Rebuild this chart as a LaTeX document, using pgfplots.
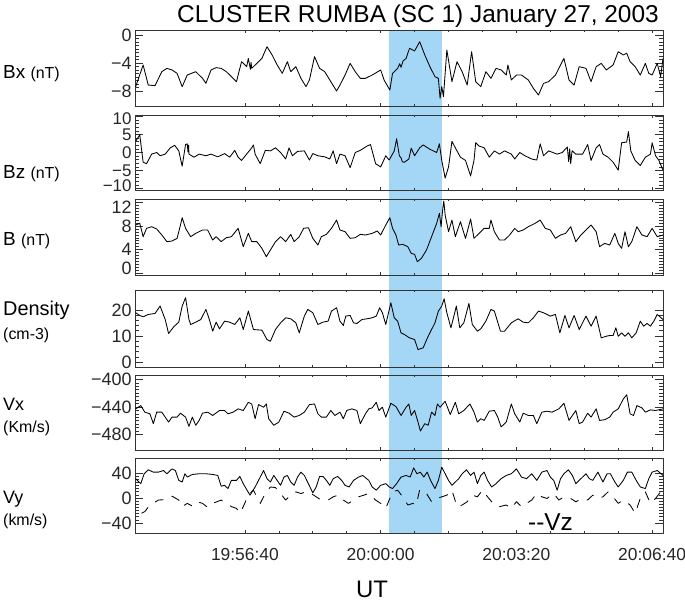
\documentclass[border=0pt]{standalone}
\usepackage{fontspec}
\setmainfont{Liberation Sans}
\usepackage{pgfplots}
\pgfplotsset{compat=1.18}
\definecolor{bandblue}{RGB}{164,214,245}

% data: time in seconds from 20:00:00 UT
\newcommand{\fs}[1]{\fontsize{#1}{#1}\selectfont}
% end labels nudged inward, as the original plot does
\newcommand{\up}[2][5bp]{\raisebox{#1}[\height][\depth]{#2}}
\newcommand{\dn}[2][5bp]{\raisebox{-#1}[\height][\depth]{#2}}

\pgfplotsset{
  panel/.style={
    anchor=north west, width=528bp, scale only axis,
    xmin=-362, xmax=416,
    xtick={-200,0,200,400}, minor x tick num=3, xticklabels={},
    tick align=inside,
    axis line style={line width=0.9bp, black!80},
    every tick/.style={black!80, line width=0.7bp},
    major tick length=8bp, minor tick length=4bp,
    x tick style={/pgfplots/major tick length=3bp, /pgfplots/minor tick length=2bp},
    tick label style={font=\fs{18}, text=black!85},
  },
  data/.style={black, line width=0.85bp, line join=round},
}

\begin{document}
\begin{tikzpicture}
\path[use as bounding box] (0,0) rectangle (685bp,-602bp);

% shaded interval across all panels
\begin{axis}[at={(135bp,-30bp)}, anchor=north west, width=528bp, height=503bp,
  scale only axis, xmin=-362, xmax=416, ymin=0, ymax=1, hide axis]
\addplot[fill=bandblue, draw=none] coordinates {(12,1) (90,1)} \closedcycle;
\end{axis}

% Bx
\begin{axis}[panel, at={(135bp,-30bp)}, height=76bp, ymin=-10.1, ymax=0.7,
  ytick={-8,-4,0}, yticklabels={−8,−4,0}, minor y tick num=7]
\addplot[data] coordinates {
(-361,-7.35) (-350,-4.27) (-342.5,-7.12) (-332.5,-7.21) (-322.5,-5.22) (-315,-4.75)
(-307.5,-4.98) (-300,-5.46) (-292.5,-7.35) (-285,-5.7) (-272.5,-5.22) (-262.5,-6.17)
(-257.5,-6.88) (-250,-4.98) (-242.5,-4.65) (-235,-4.75) (-227.5,-5.22) (-212.5,-6.64)
(-205,-3.8) (-197.5,-4.51) (-195,-3.33) (-192,-4.9) (-191,-3.9) (-190,-4.75) (-182.5,-4.04)
(-175,-3.33) (-167.5,-1.67) (-160,-2.85) (-152.5,-4.27) (-145,-5.46) (-137.5,-3.8)
(-132.5,-5.22) (-125,-4.51) (-117.5,-6.17) (-110,-7.35) (-105,-6.4) (-97.5,-3.09)
(-90,-4.75) (-82.5,-5.22) (-75,-6.4) (-65,-7.97) (-60,-7.12) (-52.5,-5.7) (-45,-4.04)
(-37.5,-5.22) (-30,-6.17) (-22.5,-6.17) (-12.5,-5.7) (0,-4.98) (5,-6.4) (13.5,-7.83)
(17.5,-5.46) (25,-4.75) (28,-4.1) (30,-4.6) (33,-3.7) (37.5,-3.33) (42.5,-1.9) (50,-2.28)
(57.5,-0.96) (65,-2.85) (72.5,-4.51) (80,-5.93) (85,-6.17) (87.5,-9.0) (90,-7.35)
(92.5,-8.77) (97.5,-2.14) (105,-6.64) (112.5,-3.8) (120,-5.22) (127.5,-7.12) (134,-2.38)
(140,-6.64) (147.5,-7.35) (155,-5.22) (162.5,-6.17) (170,-4.75) (177.5,-4.98) (185,-5.7)
(187.5,-4.27) (192.5,-6.4) (200,-5.7) (207.5,-5.7) (217.5,-6.4) (225,-7.59) (232.5,-8.54)
(240,-6.88) (247.5,-6.64) (257.5,-5.7) (270,-3.33) (277.5,-6.4) (285,-7.12) (292.5,-4.51)
(302.5,-4.75) (310,-6.64) (317.5,-4.51) (325,-4.04) (332.5,-4.98) (342.5,-4.27)
(350,-2.38) (357.5,-2.85) (362.5,-2.6) (367.5,-3.8) (375,-4.51) (382.5,-5.7) (390,-4.04)
(395,-5.46) (400,-5.7) (407.5,-4.04) (412.5,-5.93) (416,-3.33)
};
\end{axis}

% Bz
\begin{axis}[panel, at={(135bp,-115bp)}, height=75bp, ymin=-10.4, ymax=10.4,
  ytick={-10,-5,0,5,10}, yticklabels={\up[2.5bp]{−10},−5,0,5,\dn[2.5bp]{10}},
  minor y tick num=4, yticklabel style={font=\fs{17}}]
\addplot[data] coordinates {
(-361,3.1) (-355,4.9) (-350,-2.7) (-345,-3.1) (-337.5,-0.45) (-330,0) (-325,-0.9)
(-317.5,-0.45) (-310,1.3) (-303.5,2.0) (-297.5,0.45) (-292.5,-3.8) (-287.5,2.2)
(-285,2.4) (-284,0.2) (-283,2.0) (-282.5,-0.45) (-275,-1.3) (-267.5,-0.45) (-257.5,-0.9)
(-250,-0.45) (-240,-1.2) (-230,-0.3) (-222.5,-1.3) (-215,0.6) (-210,-1.3) (-205,-2.2)
(-197.5,-0.45) (-190,1.3) (-187.5,2.1) (-185,-0.45) (-177.5,-3.1) (-170,0.6)
(-162.5,0.45) (-155,1.3) (-147.5,0) (-140,-1.8) (-135,1.3) (-130,-0.9) (-122.5,0.3)
(-112.5,0.45) (-105,-2.1) (-100,-0.3) (-92.5,-0.9) (-82.5,-1.2) (-75,-1.8) (-70,0.45)
(-65,-3.1) (-60,-0.45) (-52.5,-0.9) (-45,-4.2) (-37.5,0) (-30,0.6) (-20,1.8) (-15,2.2)
(-7.5,-3.1) (0,-4.0) (7.5,-0.9) (12.5,-2.1) (20,0.45) (23.5,3.8) (27.5,-0.9) (30,-1.5)
(32,-2.6) (35,-2.7) (41.5,-1.8) (45,1.2) (50,-0.9) (57.5,1.3) (62.5,2.1) (72.5,0.9)
(82.5,0) (86.5,2.4) (90,-2.2) (95,-7.1) (100,-4.0) (105,3.1) (110,1.3) (117.5,-1.3)
(125,-2.2) (132.5,-6.5) (137.5,-2.2) (140,2.7) (145,1.8) (152.5,1.3) (160,-1.3)
(167.5,0.45) (175,-0.45) (182.5,0.45) (192.5,-0.45) (197.5,-1.8) (205,0) (212.5,-0.9)
(222.5,-1.8) (230,-2.1) (235,2.4) (240,-0.9) (247.5,0.45) (260,-0.45) (267.5,0)
(275,1.5) (277,-2.5) (278.5,1.0) (280,-3.1) (282,0.5) (287.5,-0.45) (297.5,-0.45)
(305,2.2) (310,-2.2) (317.5,1.3) (322.5,2.2) (327.5,-0.45) (335,-1.3) (342.5,-2.7)
(350,-4.9) (355,2.7) (362.5,2.9) (365,5.8) (368.5,0.45) (375,-2.2) (382.5,-3.6)
(390,-1.3) (397.5,-0.45) (400,2.7) (405,-0.9) (410,-2.2) (416,-4.9)
};
\end{axis}

% B
\begin{axis}[panel, at={(135bp,-199bp)}, height=76bp, ymin=-0.3, ymax=12.6,
  ytick={0,4,8,12}, yticklabels={\up{0},4,8,\dn{12}}, minor y tick num=7]
\addplot[data] coordinates {
(-361,8.19) (-355,8.47) (-350,6.2) (-345,7.62) (-337.5,7.9) (-330,7.51) (-322.5,6.49)
(-315,5.36) (-307.5,5.47) (-300,5.92) (-295,8.19) (-292.5,9.43) (-287.5,7.62)
(-280,6.2) (-272.5,6.77) (-262.5,7.34) (-255,7.34) (-247.5,5.64) (-242.5,6.2)
(-235,5.36) (-227.5,6.03) (-220,6.2) (-210,7.62) (-202.5,4.51) (-195,6.77) (-190,5.36)
(-182.5,5.36) (-175,4.22) (-168.5,2.81) (-162.5,3.94) (-155,5.36) (-147.5,6.2)
(-140,5.36) (-132.5,6.6) (-127.5,5.36) (-120,6.2) (-113.5,7.62) (-106.5,7.73)
(-100,5.92) (-92.5,4.79) (-87.5,6.2) (-80,6.6) (-72.5,7.62) (-65,9.03) (-60,7.34)
(-52.5,7.05) (-45,5.92) (-37.5,6.03) (-30,6.6) (-22.5,6.49) (-12.5,6.77) (-5,7.17)
(0,6.49) (7.5,8.19) (13.5,9.43) (17.5,7.62) (22.5,6.49) (26.5,4.79) (32.5,4.9)
(40,4.51) (45,3.37) (50,3.2) (54,1.96) (60,2.53) (67.5,3.94) (75,6.2) (82.5,8.47)
(86.5,10.17) (89,7.9) (91.5,11.0) (93,12.26) (95,9.88) (100,7.05) (105,9.03) (110,6.2)
(117.5,8.75) (125,5.92) (132.5,9.2) (137.5,5.92) (145,6.77) (152.5,7.62) (160,7.62)
(162.5,9.03) (167.5,7.05) (175,5.64) (182.5,5.64) (190,6.49) (197.5,7.62) (202.5,7.05)
(210,7.34) (217.5,7.9) (227.5,8.47) (235,9.03) (242.5,7.62) (250,7.34) (257.5,5.92)
(265,6.49) (272.5,6.77) (280,7.9) (287.5,5.36) (295,6.49) (302.5,7.34) (310,8.19)
(317.5,7.05) (322.5,4.51) (330,5.07) (337.5,4.79) (345,6.77) (350,5.07) (355,4.22)
(360,7.05) (365,4.51) (370,5.36) (377.5,7.9) (385,6.49) (392.5,6.2) (400,7.62)
(407.5,6.2) (416,6.49)
};
\end{axis}

% Density
\begin{axis}[panel, at={(135bp,-290bp)}, height=77bp, ymin=-1.9, ymax=27.7,
  ytick={0,10,20}, yticklabels={0,10,20}, minor y tick num=4]
\addplot[data] coordinates {
(-361,18.95) (-355,17.92) (-350,17.4) (-342.5,18.3) (-332.5,18.69) (-325,21.52)
(-317.5,16.37) (-312.5,10.97) (-305,13.54) (-297.5,15.34) (-292.5,21.52) (-287.5,24.74)
(-282.5,16.37) (-280,14.44) (-272.5,15.34) (-265,16.37) (-257.5,20.24) (-252.5,16.37)
(-247.5,11.87) (-242.5,15.34) (-237.5,12.77) (-230,15.73) (-222.5,15.34) (-215,14.44)
(-207.5,17.02) (-202.5,12.51) (-195,19.59) (-187.5,12.51) (-175,12.26) (-167.5,8.65)
(-162.5,8.01) (-155,12.51) (-147.5,15.09) (-140,17.02) (-132.5,16.63) (-125,15.09)
(-120,11.23) (-112.5,17.66) (-107.5,20.24) (-100,18.95) (-92.5,14.44) (-85,15.34)
(-77.5,15.73) (-72.5,19.59) (-65,20.88) (-60,15.73) (-55,14.06) (-51.5,17.66)
(-45,17.92) (-40,15.09) (-35,14.83) (-27.5,16.37) (-20,16.63) (-12.5,17.02) (-6.5,17.66)
(-1.5,20.88) (2.5,18.95) (7.5,14.44) (15,22.8) (20,17.02) (25,15.73) (30,11.23)
(35,10.58) (42.5,9.3) (50,8.65) (55,4.79) (62.5,5.44) (70,9.94) (75,12.51) (80,15.09)
(85,19.59) (90,21.52) (93.5,24.35) (97.5,18.95) (103.5,13.16) (111.5,21.52)
(116.5,13.16) (122.5,15.09) (130,22.55) (135,14.44) (142.5,11.87) (147.5,12.77)
(155,15.73) (162.5,20.24) (167.5,19.59) (176.5,11.87) (182.5,11.87) (192.5,15.09)
(202.5,16.63) (210,15.34) (217.5,15.09) (225,17.02) (232.5,19.59) (240,18.95)
(250,17.66) (257.5,18.3) (264,11.23) (271.5,17.92) (277.5,13.16) (285,17.92)
(292.5,12.51) (302.5,17.66) (310,13.8) (317.5,17.66) (325,9.3) (332.5,9.94)
(337.5,10.2) (342.5,10.2) (346.5,13.16) (350,9.94) (355,11.23) (360,9.94) (365,11.23)
(370,9.3) (376.5,11.23) (382.5,15.73) (387.5,13.8) (392.5,14.83) (397.5,13.8)
(402.5,15.73) (407.5,18.3) (416,16.37)
};
\end{axis}

% Vx
\begin{axis}[panel, at={(135bp,-375bp)}, height=75bp, ymin=-502.5, ymax=-393.5,
  ytick={-480,-440,-400}, yticklabels={−480,−440,−400}, minor y tick num=7]
\addplot[data] coordinates {
(-361,-442.7) (-353.5,-438) (-347.5,-447.5) (-340,-449.9) (-335,-464.2) (-330,-447.5)
(-322.5,-447.5) (-312.5,-461.9) (-307.5,-454.7) (-300,-454.7) (-295,-449)
(-287.5,-454.7) (-282.5,-468.1) (-277.5,-454.7) (-272.5,-466.6) (-267.5,-459.5)
(-262.5,-449) (-255,-447.5) (-247.5,-452.3) (-237.5,-445.1) (-230,-445.1) (-225,-449.9)
(-217.5,-447.5) (-210,-442.7) (-202.5,-445.1) (-195,-433.2) (-190,-435.6) (-185,-457.1)
(-180,-436.5) (-172.5,-440.3) (-168.5,-435.6) (-165,-457.1) (-157.5,-466.6)
(-150,-461.9) (-142.5,-446.1) (-135,-449) (-127.5,-454.7) (-120,-452.3) (-112.5,-447.5)
(-105,-436.5) (-97.5,-435.6) (-92.5,-449.9) (-87.5,-454.7) (-80,-454.7) (-73.5,-445.1)
(-67.5,-452.3) (-60,-447.5) (-55,-457.1) (-50,-445.1) (-42.5,-442.7) (-35,-445.1)
(-30,-464.2) (-22.5,-449.9) (-17.5,-442.7) (-12.5,-441.3) (-6.5,-433.2) (-2.5,-445.1)
(2.5,-440.3) (7.5,-454.7) (15,-434.6) (22.5,-439.4) (30,-452.3) (37.5,-440.3)
(41.5,-435.6) (45,-452.3) (50,-445.1) (55,-461.9) (58.5,-474.8) (65,-464.2)
(70,-466.6) (75,-447.5) (80,-452.3) (83.5,-435.6) (87.5,-440.3) (95,-431.7)
(102.5,-450.9) (110,-433.2) (115,-449.9) (122.5,-445.1) (131.5,-435.6) (137.5,-447.5)
(142.5,-461.9) (147.5,-457.1) (152.5,-459.5) (160,-446.1) (167.5,-445.1) (172.5,-454.7)
(177.5,-469) (185,-461.9) (192.5,-435.6) (197.5,-449.9) (205,-461.9) (210,-449)
(217.5,-452.3) (225,-452.3) (230,-464.2) (237.5,-447.5) (245,-446.1) (252.5,-447.5)
(262.5,-442.7) (270,-434.6) (277.5,-459.5) (282.5,-452.3) (287.5,-445.1) (292.5,-464.2)
(297.5,-461.9) (305,-449) (310,-454.7) (317.5,-442.7) (322.5,-459.5) (330,-458.5)
(337.5,-454.7) (342.5,-447.5) (350,-442.7) (357.5,-428.4) (362.5,-422.2) (367.5,-449.9)
(372.5,-452.3) (377.5,-438) (385,-441.3) (390,-447.5) (397.5,-444.2) (405,-445.1)
(416,-442.7)
};
\end{axis}

% Vy (solid) and -Vz (dashed)
\begin{axis}[panel, at={(135bp,-458bp)}, height=75bp, ymin=-56, ymax=64,
  ytick={-40,0,40}, yticklabels={−40,0,40}, minor y tick num=7,
  xticklabels={19:56:40,20:00:00,20:03:20,20:06:40},
  xticklabel style={font=\fs{17.5}, yshift=-12bp}]
\addplot[data] coordinates {
(-361,30.9) (-353.5,23) (-348.5,38.8) (-342.5,45.1) (-335,41.4) (-327.5,41.4) (-320,44)
(-315,38.8) (-307.5,46.6) (-302.5,44) (-297.5,28.2) (-292.5,25.6) (-288.5,38.8)
(-285,33.5) (-277.5,37.7) (-267.5,38.8) (-257.5,38.8) (-247.5,37.7) (-240,36.1)
(-235,18.8) (-230,20.3) (-225,15.1) (-220,28.2) (-212.5,28.2) (-207.5,34.5) (-202.5,23)
(-197.5,13.5) (-192.5,4.6) (-185,17.7) (-177.5,33.5) (-172.5,44) (-167.5,30.9)
(-162.5,25.6) (-157.5,36.1) (-152.5,28.2) (-147.5,20.3) (-142.5,33.5) (-137.5,36.1)
(-132.5,25.6) (-127.5,20.3) (-122.5,33.5) (-117.5,41.4) (-112.5,36.1) (-106.5,23)
(-100,8.2) (-95,17.7) (-90,34.5) (-85,34.5) (-80,28.2) (-75,20.3) (-70,30.9) (-63.5,34.5)
(-57.5,28.2) (-52.5,20.3) (-46.5,17.7) (-40,28.2) (-32.5,33.5) (-26.5,36.1) (-17.5,28.2)
(-12.5,17.7) (-6.5,12.5) (0,20.3) (7.5,23) (12.5,17.7) (17.5,15.1) (23.5,23) (30,33.5)
(37.5,36.1) (43.5,33.5) (48.5,48.2) (53.5,38.8) (58.5,41.4) (63.5,33.5) (68.5,41.4)
(73.5,28.2) (80,15.1) (85,28.2) (90,49.3) (95,38.8) (100,28.2) (105,20.3) (110,25.6)
(115,30.9) (120,38.8) (126.5,45.1) (132.5,36.1) (137.5,41.4) (142.5,23) (147.5,36.1)
(152.5,41.4) (157.5,28.2) (163.5,17.7) (170,23) (177.5,30.9) (185,36.1) (192.5,38.8)
(200,46.6) (207.5,33.5) (215,30.9) (222.5,38.8) (230,28.2) (237.5,41.4) (245,44)
(250,33.5) (255,28.2) (260,12.5) (265,30.9) (270,38.8) (276.5,45.1) (282.5,36.1)
(287.5,23) (295,30.9) (302.5,38.8) (307.5,30.9) (312.5,28.2) (320,41.4) (327.5,25.6)
(333.5,38.8) (338.5,38.8) (345,25.6) (350,17.7) (357.5,28.2) (363.5,41.4) (370,41.4)
(376.5,28.2) (382.5,17.7) (390,15.1) (395,30.9) (400,41.4) (407.5,44) (416,36.1)
};
\addplot[data, dash pattern=on 9bp off 9bp] coordinates {
(-352.5,-24.4) (-347.5,-21.7) (-340,-11.2) (-327.5,-3.3) (-315,-2.3) (-307.5,3)
(-297.5,-3.3) (-292.5,-13.8) (-285,-8.6) (-277.5,-12.8) (-270,-6) (-262.5,-8.6)
(-255,-14.9) (-247.5,-8.6) (-235,-3.3) (-227.5,-8.6) (-220,-13.8) (-212.5,-16.5)
(-207.5,-24.4) (-202.5,-13.8) (-195,4.6) (-187.5,12.5) (-177.5,-8.6) (-170,7.2)
(-162.5,17.7) (-155,16.7) (-147.5,7.2) (-140,-3.3) (-132.5,4.6) (-125,9.8) (-117.5,7.2)
(-110,9.8) (-102.5,7.2) (-95,1.9) (-87.5,-3.3) (-77.5,-3.3) (-70,1.9) (-62.5,4.6)
(-55,-3.3) (-47.5,-8.6) (-40,-3.3) (-32.5,1.9) (-17.5,7.2) (-7.5,-3.3) (0,-8.6)
(7.5,-16.5) (17.5,9.8) (25,12.5) (32.5,1.9) (40,-11.2) (47.5,-8.6) (52.5,-11.2)
(57.5,13.5) (62.5,9.8) (67.5,7.2) (75,-6) (82.5,-0.7) (90,1.9) (97.5,4.6) (105,12.5)
(112.5,-13.8) (120,-11.2) (127.5,-6) (135,4.6) (142.5,1.9) (150,12.5) (157.5,1.9)
(167.5,-11.2) (175,-13.8) (185,-11.2) (192.5,-16.5) (200,-6) (207.5,-13.8) (215,-8.6)
(222.5,-3.3) (230,7.2) (237.5,1.9) (245,-0.7) (255,7.2) (262.5,-3.3) (270,1.9)
(280,-0.7) (287.5,-6) (297.5,-0.7) (305,-3.3) (312.5,4.6) (320,-0.7) (327.5,1.9)
(335,9.8) (342.5,1.9) (350,-8.6) (357.5,-3.3) (367.5,-11.2) (375,-24.4) (382.5,-0.7)
(390,9.8) (397.5,-8.6) (405,-0.7) (412.5,9.8)
};
\end{axis}

% titles and labels
\node[anchor=base, font=\fs{24.5}, inner sep=0] at (418bp,-22bp) {CLUSTER RUMBA (SC 1) January 27, 2003};
\node[anchor=base west, inner sep=0] at (3bp,-78bp) {\fs{19}Bx \fs{16}(nT)};
\node[anchor=base west, inner sep=0] at (3bp,-178bp) {\fs{19}Bz \fs{16}(nT)};
\node[anchor=base west, inner sep=0] at (3bp,-245bp) {\fs{19}B \fs{16}(nT)};
\node[anchor=base west, inner sep=0] at (3bp,-315bp) {\fs{20}Density};
\node[anchor=base west, inner sep=0] at (3bp,-339bp) {\fs{16}(cm-3)};
\node[anchor=base west, inner sep=0] at (3bp,-410bp) {\fs{18}Vx};
\node[anchor=base west, inner sep=0] at (3bp,-432bp) {\fs{16}(Km/s)};
\node[anchor=base west, inner sep=0] at (3bp,-503bp) {\fs{18}Vy};
\node[anchor=base west, inner sep=0] at (3bp,-525bp) {\fs{16}(km/s)};
\node[anchor=base west, inner sep=0] at (528bp,-530bp) {\fs{24.5}-{}-Vz};
\node[anchor=base, inner sep=0] at (372bp,-597bp) {\fs{24}UT};
\end{tikzpicture}
\end{document}
